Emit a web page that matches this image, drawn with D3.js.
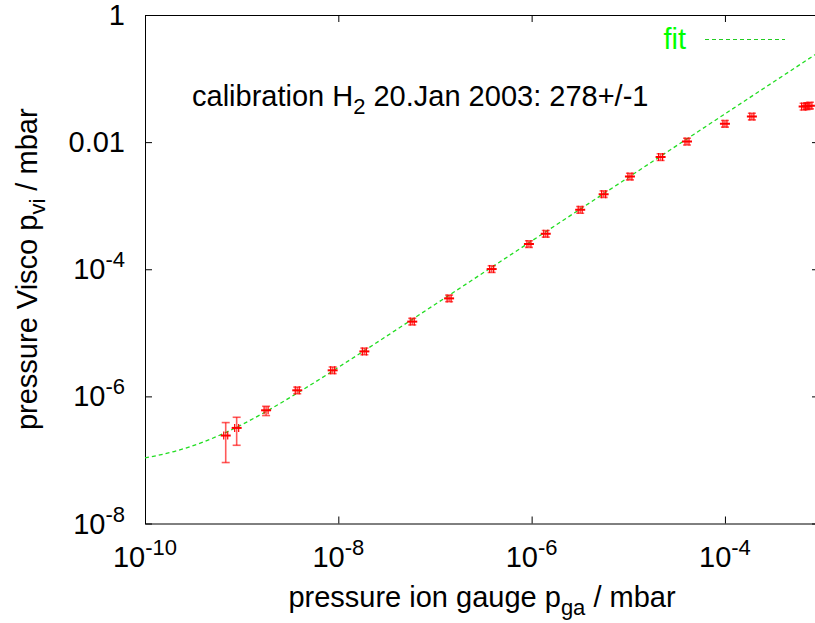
<!DOCTYPE html>
<html><head><meta charset="utf-8">
<script src="https://cdn.jsdelivr.net/npm/d3@7"></script>
<style>
html,body{margin:0;padding:0;background:#fff;}
svg{display:block;font-family:"Liberation Sans",Arial,sans-serif;}
</style></head>
<body>
<svg id="chart" width="815" height="623"></svg>
<script>
// ---- data ----
const xTicks = [1e-10, 1e-8, 1e-6, 1e-4];
const xTickExp = ["-10", "-8", "-6", "-4"];
const yTicks = [1e-8, 1e-6, 1e-4, 1e-2, 1];
const yTickLabels = [["10", "-8"], ["10", "-6"], ["10", "-4"], ["0.01", ""], ["1", ""]];

const pGauge = [6.84e-10, 8.88e-10, 1.79e-9, 3.76e-9, 8.74e-9, 1.86e-8, 5.82e-8, 1.40e-7, 3.86e-7, 9.38e-7, 1.40e-6, 3.18e-6, 5.56e-6, 1.04e-5, 2.16e-5, 4.05e-5, 1.00e-4, 1.90e-4, 6.52e-4, 7.05e-4, 7.57e-4];
const pVisco = [2.42e-7, 3.19e-7, 6.04e-7, 1.245e-6, 2.57e-6, 5.10e-6, 1.50e-5, 3.48e-5, 1.007e-4, 2.49e-4, 3.61e-4, 8.61e-4, 1.52e-3, 2.87e-3, 5.81e-3, 1.02e-2, 1.94e-2, 2.52e-2, 3.62e-2, 3.67e-2, 3.75e-2];
const pViscoLow = [9.1e-8, 1.70e-7, 4.99e-7, 1.10e-6, 2.28e-6, 4.52e-6, 1.33e-5, 3.09e-5, 8.9e-5, 2.21e-4, 3.20e-4, 7.6e-4, 1.35e-3, 2.55e-3, 5.15e-3, 9.0e-3, 1.72e-2, 2.24e-2, 3.21e-2, 3.26e-2, 3.33e-2];
const pViscoHigh = [3.87e-7, 4.69e-7, 6.98e-7, 1.40e-6, 2.90e-6, 5.75e-6, 1.69e-5, 3.92e-5, 1.135e-4, 2.81e-4, 4.07e-4, 9.7e-4, 1.71e-3, 3.23e-3, 6.55e-3, 1.15e-2, 2.19e-2, 2.84e-2, 4.08e-2, 4.14e-2, 4.23e-2];

const fitX = [1e-10, 2e-10, 4e-10, 7e-10, 1e-9, 2e-9, 4e-9, 1e-8, 3e-8, 1e-7, 1e-6, 1e-5, 1e-4, 9.4e-4];
const fitY = [1.078e-7, 1.356e-7, 1.912e-7, 2.746e-7, 3.58e-7, 6.36e-7, 1.192e-6, 2.86e-6, 8.42e-6, 2.79e-5, 2.78e-4, 2.78e-3, 2.78e-2, 0.261];

// ---- layout ----
const L = 145, R = 819, T = 15, B = 523.5;
const FS = 29;
const svg = d3.select("#chart");

const x = d3.scaleLog().domain([1e-10, 9.4e-4]).range([L, R]);
const y = d3.scaleLog().domain([1e-8, 1]).range([B, T]);

svg.append("defs").append("clipPath").attr("id", "clip")
  .append("rect").attr("x", L).attr("y", T).attr("width", R - L).attr("height", B - T);

// axes
svg.append("g").attr("transform", `translate(0,${B})`)
  .call(d3.axisBottom(x).tickValues(xTicks).tickSize(-7).tickSizeOuter(0).tickFormat(() => ""));
svg.append("g").attr("transform", `translate(0,${T})`)
  .call(d3.axisTop(x).tickValues(xTicks).tickSize(-7).tickSizeOuter(0).tickFormat(() => ""));
svg.append("g").attr("transform", `translate(${L},0)`)
  .call(d3.axisLeft(y).tickValues(yTicks).tickSize(-7).tickSizeOuter(0).tickFormat(() => ""));
svg.append("g").attr("transform", `translate(${R},0)`)
  .call(d3.axisRight(y).tickValues(yTicks).tickSize(-7).tickSizeOuter(0).tickFormat(() => ""));
svg.selectAll(".domain, .tick line").attr("stroke", "#000").attr("stroke-width", 1);
svg.selectAll(".tick text").remove();

// x tick labels
xTicks.forEach((v, i) => {
  const t = svg.append("text").attr("x", x(v)).attr("y", 567).attr("text-anchor", "middle")
    .attr("font-size", FS).attr("fill", "#000");
  t.append("tspan").text("10");
  t.append("tspan").attr("dy", -12).attr("font-size", 22).text(xTickExp[i]);
});
// y tick labels
yTicks.forEach((v, i) => {
  const t = svg.append("text").attr("x", 125).attr("y", y(v) + 10).attr("text-anchor", "end")
    .attr("font-size", FS).attr("fill", "#000");
  t.append("tspan").text(yTickLabels[i][0]);
  if (yTickLabels[i][1]) t.append("tspan").attr("dy", -12).attr("font-size", 22).text(yTickLabels[i][1]);
});

// axis titles
const xt = svg.append("text").attr("x", 482).attr("y", 607).attr("text-anchor", "middle")
  .attr("font-size", FS).attr("fill", "#000");
xt.append("tspan").text("pressure ion gauge p");
xt.append("tspan").attr("dy", 8).attr("font-size", 22).text("ga");
xt.append("tspan").attr("dy", -8).text(" / mbar");

const yt = svg.append("text").attr("transform", `translate(37,${(T + B) / 2}) rotate(-90)`)
  .attr("text-anchor", "middle").attr("font-size", FS).attr("fill", "#000");
yt.append("tspan").text("pressure Visco p");
yt.append("tspan").attr("dy", 8).attr("font-size", 22).text("vi");
yt.append("tspan").attr("dy", -8).text(" / mbar");

// label in plot
const lab = svg.append("text").attr("x", 192).attr("y", 106).attr("font-size", FS).attr("fill", "#000");
lab.append("tspan").text("calibration H");
lab.append("tspan").attr("dy", 8).attr("font-size", 22).text("2");
lab.append("tspan").attr("dy", -8).text(" 20.Jan 2003: 278+/-1");

// fit line
const fitData = fitX.map((v, i) => [v, fitY[i]]);
svg.append("path").datum(fitData).attr("clip-path", "url(#clip)")
  .attr("fill", "none").attr("stroke", "#22dd22").attr("stroke-width", 1.3)
  .attr("stroke-dasharray", "4,3")
  .attr("d", d3.line().x(d => x(d[0])).y(d => y(d[1])).curve(d3.curveMonotoneX));

// legend
svg.append("text").attr("x", 686).attr("y", 49).attr("text-anchor", "end")
  .attr("font-size", FS).attr("fill", "#00ff00").text("fit");
svg.append("line").attr("x1", 705).attr("x2", 785).attr("y1", 39.5).attr("y2", 39.5)
  .attr("stroke", "#22cc22").attr("stroke-width", 1.2).attr("stroke-dasharray", "4,3");

// data points with error bars
const pts = pGauge.map((v, i) => ({x: v, y: pVisco[i], lo: pViscoLow[i], hi: pViscoHigh[i]}));
const gp = svg.append("g").attr("clip-path", "url(#clip)");
const cap = 4;
pts.forEach(d => {
  const cx = x(d.x), cy = y(d.y), ylo = y(d.lo), yhi = y(d.hi);
  const g = gp.append("g").attr("stroke", "#ff0000").attr("fill", "none");
  g.append("line").attr("x1", cx).attr("x2", cx).attr("y1", yhi).attr("y2", ylo)
    .attr("stroke-width", 1.6).attr("stroke-opacity", 0.65);
  g.append("line").attr("x1", cx - cap).attr("x2", cx + cap).attr("y1", yhi).attr("y2", yhi)
    .attr("stroke-width", 1.6).attr("stroke-opacity", 0.65);
  g.append("line").attr("x1", cx - cap).attr("x2", cx + cap).attr("y1", ylo).attr("y2", ylo)
    .attr("stroke-width", 1.6).attr("stroke-opacity", 0.65);
  g.append("line").attr("x1", cx - 5).attr("x2", cx + 5).attr("y1", cy).attr("y2", cy)
    .attr("stroke-width", 2);
  g.append("line").attr("x1", cx - 2).attr("x2", cx - 2).attr("y1", cy - 4).attr("y2", cy + 4)
    .attr("stroke-width", 1.2);
  g.append("line").attr("x1", cx + 2).attr("x2", cx + 2).attr("y1", cy - 4).attr("y2", cy + 4)
    .attr("stroke-width", 1.2);
});
</script>
</body></html>
